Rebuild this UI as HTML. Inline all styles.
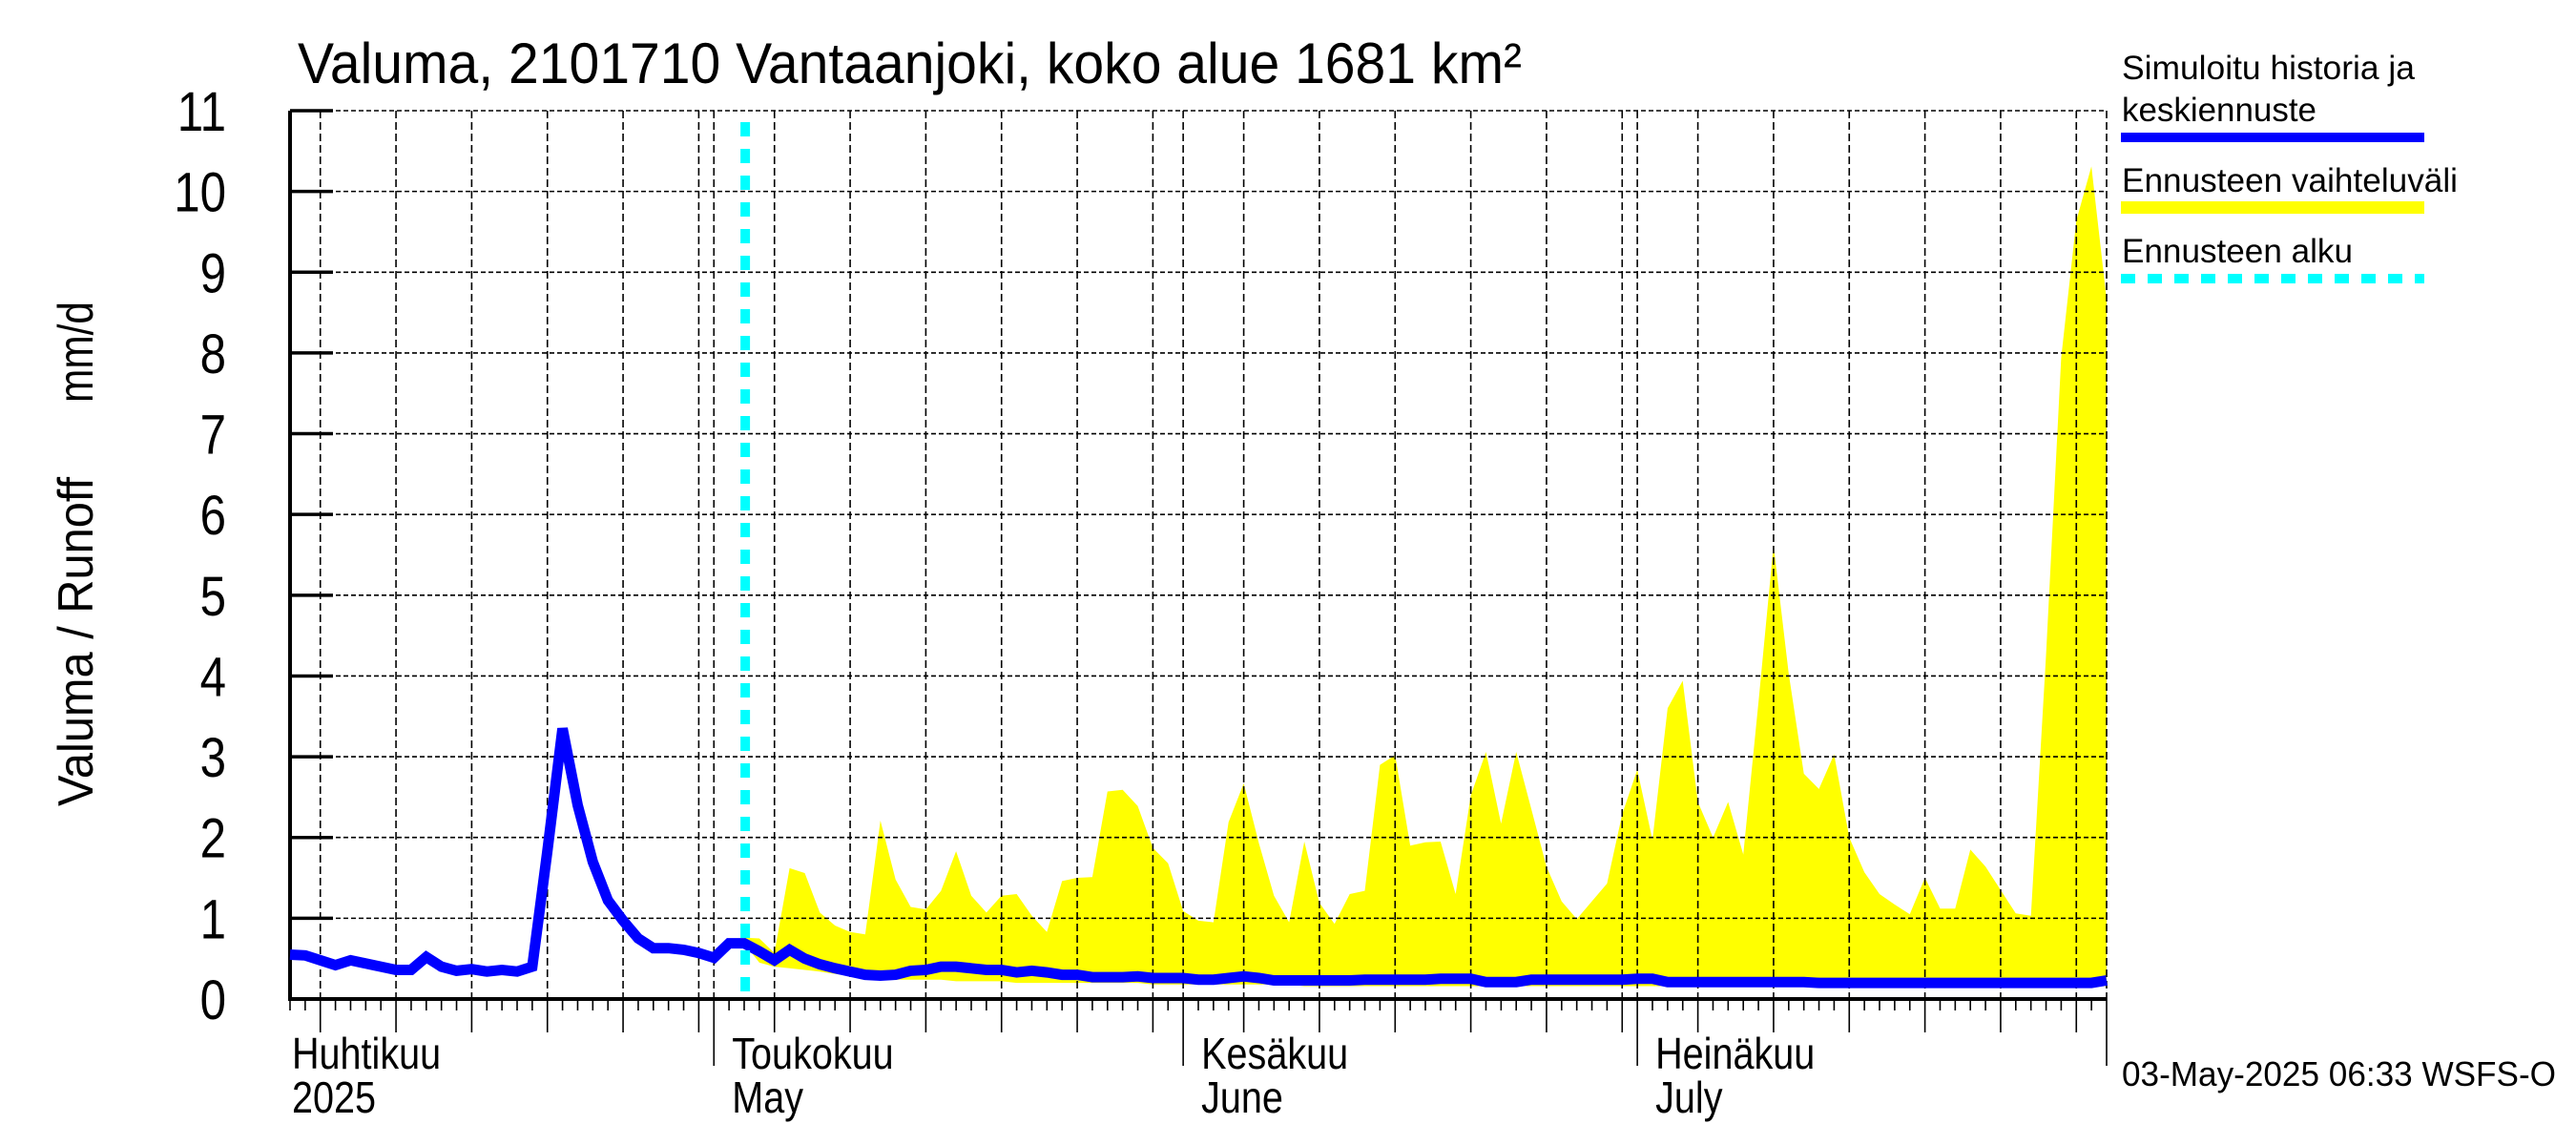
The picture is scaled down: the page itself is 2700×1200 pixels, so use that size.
<!DOCTYPE html>
<html><head><meta charset="utf-8"><style>
html,body{margin:0;padding:0;background:#fff;}
svg{display:block;font-family:"Liberation Sans",sans-serif;}
</style></head><body>
<svg id="chart" width="2700" height="1200" viewBox="0 0 2700 1200" xmlns="http://www.w3.org/2000/svg">
<rect width="2700" height="1200" fill="#fff"/>
<text x="312" y="87" font-size="60" textLength="1283" lengthAdjust="spacingAndGlyphs">Valuma, 2101710 Vantaanjoki, koko alue 1681 km²</text>
<text transform="translate(97,845) rotate(-90)" font-size="52" textLength="345" lengthAdjust="spacingAndGlyphs">Valuma / Runoff</text>
<text transform="translate(97,422) rotate(-90)" font-size="52" textLength="106" lengthAdjust="spacingAndGlyphs">mm/d</text>
<g id="band"></g>
<g id="grid"></g>
<g id="axes"></g>
<g id="series"></g>
<g>
<text x="2224" y="83" font-size="35" textLength="307" lengthAdjust="spacingAndGlyphs">Simuloitu historia ja</text>
<text x="2224" y="127" font-size="35" textLength="204" lengthAdjust="spacingAndGlyphs">keskiennuste</text>
<rect x="2223" y="139" width="318" height="10" fill="#0000ff"/>
<text x="2224" y="201" font-size="35" textLength="352" lengthAdjust="spacingAndGlyphs">Ennusteen vaihteluväli</text>
<rect x="2223" y="211" width="318" height="13" fill="#ffff00"/>
<text x="2224" y="275" font-size="35" textLength="242" lengthAdjust="spacingAndGlyphs">Ennusteen alku</text>
<line x1="2223" y1="292" x2="2541" y2="292" stroke="#00ffff" stroke-width="10" stroke-dasharray="15,13"/>
</g>
<text x="2224" y="1138" font-size="36" textLength="455" lengthAdjust="spacingAndGlyphs">03-May-2025 06:33 WSFS-O</text>
</svg>
<script>
const yTicks = [0,1,2,3,4,5,6,7,8,9,10,11];
const monthLabelsFi = ["Huhtikuu","Toukokuu","Kesäkuu","Heinäkuu"];
const monthLabelsEn = ["2025","May","June","July"];
const monthStartDays = [-2,28,59,89];
const forecastStartDay = 30.07;
const simulated = [0.55,0.54,0.48,0.42,0.48,0.44,0.40,0.36,0.36,0.52,0.40,0.35,0.37,0.34,0.36,0.34,0.40,1.83,3.35,2.40,1.70,1.22,0.97,0.75,0.63,0.63,0.61,0.57,0.51,0.69,0.69,0.59,0.48,0.61,0.50,0.43,0.38,0.34,0.30,0.29,0.30,0.35,0.36,0.40,
0.40,0.38,0.36,0.36,0.33,0.35,0.33,0.30,0.30,0.27,0.27,0.27,0.28,0.26,0.26,0.26,0.24,0.24,0.26,0.28,0.26,0.23,0.23,0.23,0.23,0.23,0.23,0.24,0.24,0.24,0.24,0.24,0.25,0.25,0.25,0.21,0.21,0.21,0.24,0.24,0.24,0.24,0.24,0.24,0.24,
0.25,0.25,0.21,0.21,0.21,0.21,0.21,0.21,0.21,0.21,0.21,0.21,0.20,0.20,0.20,0.20,0.20,0.20,0.20,0.20,0.20,0.20,0.20,0.20,0.20,0.20,0.20,0.20,0.20,0.20,0.20,0.23];
const bandStartDay = 30;
const bandUpper = [0.76,0.75,0.57,1.62,1.56,1.07,0.91,0.83,0.80,2.21,1.48,1.14,1.11,1.34,1.83,1.28,1.07,1.28,1.30,1.03,0.83,1.46,1.50,1.51,2.57,2.59,2.39,1.87,1.68,1.09,0.97,0.95,2.19,2.67,1.93,1.28,0.95,1.95,1.19,0.93,1.30,1.34,2.90,3.02,1.90,1.94,1.95,1.30,2.52,3.06,2.17,3.06,2.35,1.64,1.21,0.99,1.21,1.43,2.29,2.84,1.97,3.60,3.94,2.44,2.00,2.44,1.79,3.67,5.62,4.03,2.79,2.60,3.03,2.00,1.57,1.30,1.17,1.05,1.50,1.12,1.12,1.85,1.64,1.35,1.06,1.03,4.25,7.94,9.64,10.31,8.66];
const bandLower = [0.69,0.45,0.40,0.38,0.36,0.34,0.31,0.29,0.27,0.24,0.24,0.24,0.24,0.24,0.22,0.22,0.22,0.22,0.20,0.20,0.20,0.20,0.20,0.20,0.20,0.20,0.20,0.18,0.18,0.18,0.18,0.18,0.18,0.18,0.18,0.18,0.18,0.16,0.16,0.16,0.16,0.16,0.16,0.16,0.16,0.16,0.16,0.16,0.16,0.16,0.16,0.16,0.16,0.16,0.16,0.16,0.16,0.16,0.16,0.16,0.16,0.16,0.16,0.16,0.16,0.16,0.16,0.16,0.16,0.16,0.16,0.16,0.16,0.16,0.16,0.16,0.16,0.16,0.16,0.16,0.16,0.16,0.16,0.16,0.16,0.16,0.16,0.16,0.16,0.16,0.16];

const NS = "http://www.w3.org/2000/svg";
const X0 = 304, X1 = 2208, Y0 = 1047, Y11 = 116, NDAYS = 120;
function xs(d){ return X0 + (X1 - X0) * d / NDAYS; }
function ys(v){ return Y0 - (Y0 - Y11) * v / 11; }
function mk(tag, attrs, parent){
  const e = document.createElementNS(NS, tag);
  for (const k in attrs) e.setAttribute(k, attrs[k]);
  parent.appendChild(e); return e;
}
function condense(el, f){
  const w = el.getComputedTextLength();
  if (w > 0) { el.setAttribute('textLength', (w*f).toFixed(1)); el.setAttribute('lengthAdjust', 'spacingAndGlyphs'); }
}
const band = document.getElementById('band');
const grid = document.getElementById('grid');
const axes = document.getElementById('axes');
const series = document.getElementById('series');

let pts = [];
bandUpper.forEach((v,i)=>pts.push(xs(bandStartDay+i).toFixed(1)+','+ys(v).toFixed(1)));
for (let i = bandLower.length-1; i >= 0; i--) pts.push(xs(bandStartDay+i).toFixed(1)+','+ys(bandLower[i]).toFixed(1));
const poly = mk('polygon', {points: pts.join(' '), fill: '#ffff00'}, band);



yTicks.forEach(v=>{
  if (v > 0) {
    const g = mk('line', {x1: X0, x2: X1, y1: ys(v), y2: ys(v), stroke: '#000', 'stroke-width': 1.6, 'stroke-dasharray': '5,3'}, grid);
    
    
    const t = mk('line', {x1: X0, x2: X0+45, y1: ys(v), y2: ys(v), stroke: '#000', 'stroke-width': 3.5}, axes);
    
    
  }
  const lb = mk('text', {x: 237, y: ys(v)+21, 'text-anchor': 'end', 'font-size': 58}, axes);
  
  
  lb.textContent = v;
  condense(lb, 0.85);
});

for (let d = 0; d <= NDAYS; d++) {
  const dt = new Date(2025, 3, 3 + d);
  const dom = dt.getDate();
  const x = xs(d);
  const isMonth = dom === 1;
  const isFive = dom % 5 === 0 && dom <= 30;
  if ((isMonth || isFive) && d > 0) {
    const g = mk('line', {x1: x, x2: x, y1: Y11, y2: Y0, stroke: '#000', 'stroke-width': 1.6, 'stroke-dasharray': '8,4'}, grid);
    
    
  }
  const len = isMonth ? 70 : (isFive ? 35 : 12);
  const t = mk('line', {x1: x, x2: x, y1: Y0, y2: Y0+len, stroke: '#000', 'stroke-width': 1.6}, axes);
  
  
}
monthStartDays.forEach((d,i)=>{
  const x = Math.max(xs(d), X0) + 2 + (i === 0 ? 0 : 17);
  const a = mk('text', {x: x, y: 1120, 'font-size': 46}, axes);
  
  
  a.textContent = monthLabelsFi[i];
  condense(a, 0.86);
  const b = mk('text', {x: x, y: 1166, 'font-size': 46}, axes);
  
  
  b.textContent = monthLabelsEn[i];
  condense(b, 0.86);
});
const ax = mk('line', {x1: X0, x2: X1, y1: Y0, y2: Y0, stroke: '#000', 'stroke-width': 4}, axes);


const ay = mk('line', {x1: X0, x2: X0, y1: Y11, y2: Y0+2, stroke: '#000', 'stroke-width': 4}, axes);



const sp = simulated.map((v,i)=>xs(i).toFixed(1)+','+ys(v).toFixed(1)).join(' ');
const pl = mk('polyline', {points: sp, fill: 'none', stroke: '#0000ff', 'stroke-width': 11, 'stroke-linejoin': 'miter'}, series);



const fx = xs(forecastStartDay);
const fl = mk('line', {x1: fx, x2: fx, y1: 128, y2: Y0, stroke: '#00ffff', 'stroke-width': 10, 'stroke-dasharray': '15,13'}, series);


</script>
</body></html>
